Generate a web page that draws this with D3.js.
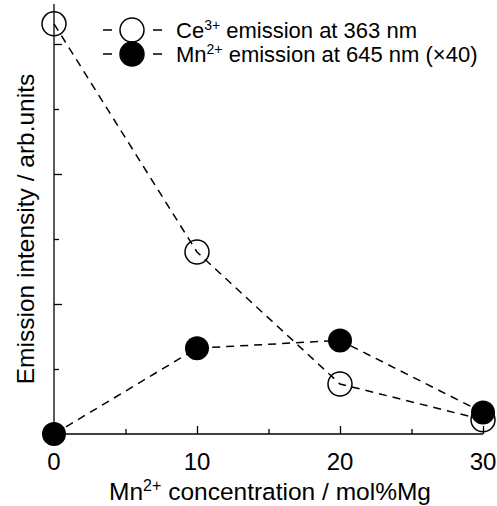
<!DOCTYPE html>
<html>
<head>
<meta charset="utf-8">
<script src="https://cdn.jsdelivr.net/npm/d3@7"></script>
<style>
  body { margin: 0; background: #fff; }
  svg { display: block; font-family: "Liberation Sans", Arial, sans-serif; }
</style>
</head>
<body>
<svg width="497" height="506"></svg>
<script>
// Mn2+ concentration (mol%Mg)
var concentrations = [0, 10, 20, 30];
// emission intensity, arb. units
var ceValues = [6.31, 2.80, 0.77, 0.22];
var mnValues = [0.0, 1.32, 1.44, 0.33];
var xTicks = [0, 10, 20, 30];

var svg = d3.select("svg");

var x = d3.scaleLinear().domain([0, 30]).range([54, 483]);
var y = d3.scaleLinear().domain([0, 6.6]).range([434, 5]);

// axes
var xAxis = svg.append("g").attr("transform", "translate(0,434)");
xAxis.call(d3.axisBottom(x).tickValues(d3.range(0, 31, 5)).tickSize(-8).tickFormat(""));
xAxis.selectAll(".tick line").attr("y2", function(d){ return d % 10 == 0 ? -8 : -5; });
xAxis.select(".domain").attr("d", "M54,0H483");

var yAxis = svg.append("g").attr("transform", "translate(54,0)");
yAxis.call(d3.axisLeft(y).tickValues(d3.range(0, 7, 1)).tickSize(-8).tickFormat(""));
yAxis.selectAll(".tick line").attr("x2", function(d){ return d % 2 == 0 ? 8 : 5; });
yAxis.select(".domain").attr("d", "M0,434V4");

svg.selectAll(".domain, .tick line").attr("stroke", "#000").attr("stroke-width", 1.3);

svg.append("g").selectAll("text")
  .data(xTicks)
  .enter().append("text")
  .attr("x", function(d){ return x(d); })
  .attr("y", 470)
  .attr("text-anchor", "middle")
  .style("font-size", "24px")
  .text(function(d){ return d; });

// axis titles
var xt = svg.append("text")
  .attr("x", 270).attr("y", 500)
  .attr("text-anchor", "middle")
  .style("font-size", "24.5px");
xt.append("tspan").text("Mn");
xt.append("tspan").attr("dy", -9).style("font-size", "16px").text("2+");
xt.append("tspan").attr("dy", 9).text(" concentration / mol%Mg");

svg.append("text")
  .attr("transform", "translate(34,229) rotate(-90)")
  .attr("text-anchor", "middle")
  .style("font-size", "24.5px")
  .text("Emission intensity / arb.units");

// lines
var line = d3.line()
  .x(function(d, i){ return x(concentrations[i]); })
  .y(function(d){ return y(d); });

[ceValues, mnValues].forEach(function(vals){
  svg.append("path")
    .attr("d", line(vals))
    .attr("fill", "none")
    .attr("stroke", "#000")
    .attr("stroke-width", 1.5)
    .attr("stroke-dasharray", "8,6");
});

svg.append("g").selectAll("circle")
  .data(mnValues)
  .enter().append("circle")
  .attr("cx", function(d, i){ return x(concentrations[i]); })
  .attr("cy", function(d){ return y(d); })
  .attr("r", 12)
  .attr("fill", "#000");

svg.append("g").selectAll("circle")
  .data(ceValues)
  .enter().append("circle")
  .attr("cx", function(d, i){ return x(concentrations[i]); })
  .attr("cy", function(d){ return y(d); })
  .attr("r", 12)
  .attr("fill", "none")
  .attr("stroke", "#000")
  .attr("stroke-width", 1.5);

// legend
var legend = [
  {ion: "Ce", sup: "3+", rest: " emission at 363 nm", filled: false},
  {ion: "Mn", sup: "2+", rest: " emission at 645 nm (\u00d740)", filled: true}
];
var lg = svg.selectAll(".legend")
  .data(legend)
  .enter().append("g")
  .attr("class", "legend")
  .attr("transform", function(d, i){ return "translate(0," + (30 + i * 24) + ")"; });

lg.append("line")
  .attr("x1", 103).attr("x2", 162)
  .attr("stroke", "#000").attr("stroke-width", 1.5)
  .attr("stroke-dasharray", "9,41");
lg.append("circle")
  .attr("cx", 132).attr("r", 12)
  .attr("fill", function(d){ return d.filled ? "#000" : "#fff"; })
  .attr("stroke", "#000").attr("stroke-width", 1.5);
var lt = lg.append("text")
  .attr("x", 176).attr("y", 7.5)
  .style("font-size", "22px");
lt.append("tspan").text(function(d){ return d.ion; });
lt.append("tspan").attr("dy", -8).style("font-size", "14px").text(function(d){ return d.sup; });
lt.append("tspan").attr("dy", 8).text(function(d){ return d.rest; });
</script>
</body>
</html>
